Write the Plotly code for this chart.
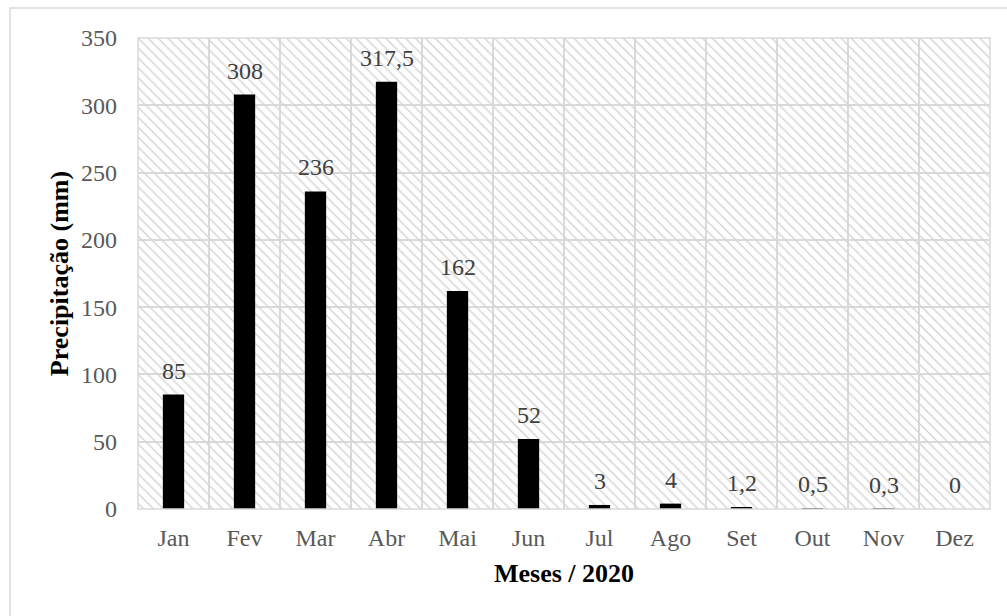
import plotly.graph_objects as go

# Monthly rainfall, 2020
months = ["Jan", "Fev", "Mar", "Abr", "Mai", "Jun", "Jul", "Ago", "Set", "Out", "Nov", "Dez"]
rain_mm = [85, 308, 236, 317.5, 162, 52, 3, 4, 1.2, 0.5, 0.3, 0]
y_ticks = [0, 50, 100, 150, 200, 250, 300, 350]

Y_MAX = 350
FONT = "Liberation Serif"
GRID = "#d9d9d9"

fig = go.Figure()

# hatched plot-area background (drawn on a hidden numeric axis underneath)
fig.add_trace(go.Bar(
    x=[0.5], y=[Y_MAX], width=[1], xaxis="x", yaxis="y",
    marker=dict(color="rgba(0,0,0,0)", line=dict(width=0),
                pattern=dict(shape="\\", fgcolor="#d6d6d6", bgcolor="rgba(0,0,0,0)",
                             size=7, solidity=0.22, fillmode="replace")),
    hoverinfo="skip", showlegend=False,
))

# rainfall bars on the categorical axis
fig.add_trace(go.Bar(
    x=months, y=rain_mm, xaxis="x2", yaxis="y",
    marker=dict(color="#000000", line=dict(width=0)),
    showlegend=False,
))

# value labels above each bar
for m, v in zip(months, rain_mm):
    fig.add_annotation(
        x=m, y=v, xref="x2", yref="y",
        text=f"{v:g}".replace(".", ","),
        showarrow=False, yanchor="bottom", yshift=9,
        font=dict(family=FONT, size=24, color="#404040"),
    )

fig.update_layout(
    width=1007, height=616,
    margin=dict(l=138, r=17, t=38, b=107),
    paper_bgcolor="white", plot_bgcolor="white",
    bargap=0.7,
    font=dict(family=FONT, size=24, color="#595959"),
    xaxis=dict(range=[0, 1], visible=False, showgrid=False, zeroline=False),
    xaxis2=dict(
        overlaying="x", type="category", tickson="boundaries", ticks="",
        showgrid=True, gridcolor=GRID, gridwidth=1.5,
        ticklabelstandoff=12,
        tickfont=dict(family=FONT, size=24, color="#595959"),
        title=dict(text="<b>Meses / 2020</b>", standoff=13,
                   font=dict(family=FONT, size=26, color="#000000")),
        side="bottom",
    ),
    yaxis=dict(
        range=[0, Y_MAX], tickvals=y_ticks, ticks="",
        showgrid=True, gridcolor=GRID, gridwidth=1.5, zeroline=False,
        ticklabelstandoff=20,
        tickfont=dict(family=FONT, size=24, color="#595959"),
        title=dict(text="<b>Precipitação (mm)</b>", standoff=4,
                   font=dict(family=FONT, size=26, color="#000000")),
    ),
    shapes=[
        # plot-area frame
        dict(type="rect", xref="paper", yref="paper", x0=0, x1=1, y0=0, y1=1,
             line=dict(color=GRID, width=1.5), layer="above"),
        # chart frame
        dict(type="rect", xref="paper", yref="paper", x0=-0.1502, x1=1.03,
             y0=-0.24, y1=1.0637, line=dict(color=GRID, width=1.5), layer="below"),
    ],
)

fig.write_html("out.html")
